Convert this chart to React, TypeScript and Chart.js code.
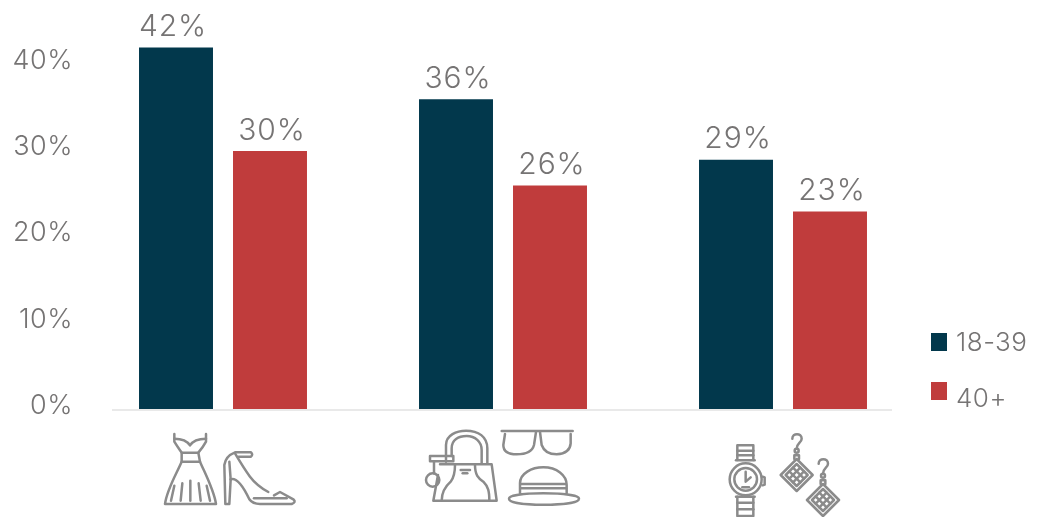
import { useEffect, useRef } from "react";
import { Chart, registerables } from "chart.js";

Chart.register(...registerables);

const categories = ["Dresses and shoes", "Bags and accessories", "Watches and jewellery"];
const youngerShare = [42, 36, 29];
const olderShare = [30, 26, 23];
const seriesNames = ["18-39", "40+"];
const axisTicks = [0, 10, 20, 30, 40];

const NAVY = "#02384c";
const RED = "#c03c3c";
const TEXT = "#767474";
const ICON = "#8b8b8b";
const FAMILY = 'Inter, "Open Sans", sans-serif';

// Line icons, one per category, in a 3x grid relative to an origin beside the category centre.
const dressAndShoe = [
  "M103 42 L103 65 C112 80 120 90 125 98 L175 98 C182 90 190 80 198 65 L198 42",
  "M103 56 C125 56 140 60 150 76 C160 60 178 56 198 56",
  "M125 98 L125 125 L180 125 L175 98",
  "M125 125 C110 160 80 210 75 252 L228 252 C222 210 195 160 180 125",
  "M103 197 L93 242", "M127 190 L122 242", "M151 182 L151 242", "M176 190 L182 242", "M200 197 L210 242",
  "M296 110 L333 110 Q340 104 333 97 L285 97 C265 105 255 120 253 135 L256 252 L268 252 L272 178",
  "M272 178 C290 172 310 200 328 238 Q338 252 360 252 L455 252 Q470 246 460 238 L420 216 L402 226",
  "M385 216 C365 205 345 190 330 170 C315 150 300 125 285 100",
  "M342 235 L440 235", "M268 125 L272 178",
];
const bagGlassesHat = [
  "M108 125 L108 75 C108 45 140 32 168 32 C205 32 232 50 232 85 L232 130",
  "M125 108 L125 85 C125 60 145 48 170 48 C195 48 215 65 215 90 L215 130",
  "M90 133 L245 133 L260 242 L70 242 L84 165",
  "M135 135 C135 165 130 175 122 185 C105 200 95 215 95 242",
  "M195 135 C195 165 205 175 220 185 C235 200 238 215 238 242",
  "M152 150 L180 150", "M158 160 L172 160",
  "M60 108 L130 108 L130 124 L60 124 Z", "M72 124 L72 160",
  "M88 180 A20 20 0 1 1 48 180 A20 20 0 1 1 88 180",
  "M275 33 L488 33", "M285 42 L280 75 Q280 103 320 103 Q365 103 372 75 L378 36",
  "M390 36 L395 75 Q405 103 440 103 Q480 100 482 70 L482 42",
  "M330 220 L330 190 C330 160 365 142 400 142 C440 142 470 165 470 195 L470 220",
  "M332 192 L468 192", "M332 205 L468 205",
  "M507 236 C507 226 460 220 400 220 C340 220 297 226 297 236 C297 248 340 254 400 254 C460 254 507 248 507 236",
];
const watchAndEarrings = [
  "M112 120 L112 76 L160 76 L160 120", "M112 92 L160 92", "M112 106 L160 106", "M108 121 L164 121",
  "M112 230 L112 288 L160 288 L160 230", "M108 230 L164 230", "M112 248 L160 248", "M112 268 L160 268",
  "M185 178 A48 48 0 1 1 89 178 A48 48 0 1 1 185 178",
  "M171 178 A34 34 0 1 1 103 178 A34 34 0 1 1 171 178",
  "M188 170 L194 172 L194 194 L188 196", "M137 155 L137 185 L152 172", "M127 202 L147 202",
];
const earring = [
  "M290 117 L338 165 L290 213 L242 165 Z", "M290 132 L323 165 L290 198 L257 165 Z",
  "M268 154 L301 187", "M279 143 L312 176", "M268 176 L301 143", "M279 187 L312 154",
  "M283 117 L283 106 L297 106 L297 117", "M296 92 A6 6 0 1 1 284 92 A6 6 0 1 1 296 92",
  "M277 56 C277 38 305 38 305 56 C305 68 290 68 290 86",
];
const categoryIcons = [
  { dx: -83, paths: dressAndShoe },
  { dx: -93, paths: bagGlassesHat },
  { dx: -83, paths: watchAndEarrings },
];

const chartDecorations = {
  id: "chartDecorations",
  beforeDraw(chart: any) {
    // Slightly open tracking widens the light face on the axis labels.
    chart.ctx.letterSpacing = "0.5px";
  },
  afterDatasetsDraw(chart: any) {
    const { ctx, scales } = chart;
    const x = scales.x;
    const y = scales.y;
    ctx.save();

    // Baseline, shorter than the plotting area.
    ctx.strokeStyle = "#e9e9e9";
    ctx.lineWidth = 2;
    ctx.beginPath();
    ctx.moveTo(x.left + 29, y.getPixelForValue(0));
    ctx.lineTo(x.right - 31, y.getPixelForValue(0));
    ctx.stroke();

    // Value labels above each bar; the first one sits a little left of its bar's centre.
    ctx.font = `300 30px ${FAMILY}`;
    ctx.letterSpacing = "0.9px";
    ctx.fillStyle = TEXT;
    ctx.textAlign = "center";
    ctx.textBaseline = "middle";
    chart.data.datasets.forEach((ds: any, i: number) => {
      chart.getDatasetMeta(i).data.forEach((bar: any, j: number) => {
        const nudge = i === 0 && j === 0 ? -3 : 2;
        ctx.fillText(ds.data[j] + "%", bar.x + nudge, bar.y - 20.5);
      });
    });

    // Category icons below the baseline.
    ctx.strokeStyle = ICON;
    ctx.lineWidth = 7.5;
    ctx.lineCap = "round";
    ctx.lineJoin = "round";
    categoryIcons.forEach((icon, i) => {
      ctx.save();
      ctx.translate(x.getPixelForValue(i) + icon.dx, 420);
      ctx.scale(1 / 3, 1 / 3);
      icon.paths.forEach((d) => ctx.stroke(new Path2D(d)));
      if (i === 2) {
        earring.forEach((d) => ctx.stroke(new Path2D(d)));
        ctx.translate(79, 75);
        earring.forEach((d) => ctx.stroke(new Path2D(d)));
      }
      ctx.restore();
    });

    // Legend at the lower right.
    const rows = [
      { box: 333, text: 343 },
      { box: 382, text: 399 },
    ];
    ctx.font = `300 26px ${FAMILY}`;
    ctx.letterSpacing = "0.5px";
    rows.forEach((row, i) => {
      ctx.fillStyle = chart.data.datasets[i].backgroundColor;
      ctx.fillRect(931, row.box, 16, 18);
      ctx.fillStyle = TEXT;
      ctx.textAlign = "left";
      ctx.fillText(seriesNames[i], 956, row.text);
    });
    ctx.restore();
  },
};

export default function App() {
  const ref = useRef<HTMLCanvasElement>(null);

  useEffect(() => {
    const chart = new Chart(ref.current!, {
      type: "bar",
      data: {
        labels: categories,
        datasets: [
          { label: seriesNames[0], data: youngerShare, backgroundColor: NAVY },
          { label: seriesNames[1], data: olderShare, backgroundColor: RED },
        ],
      },
      plugins: [chartDecorations],
      options: {
        responsive: false,
        animation: false,
        categoryPercentage: 0.6714,
        barPercentage: 0.787,
        layout: { padding: { top: 0, right: 128, bottom: 0, left: 0 } },
        plugins: { legend: { display: false }, tooltip: { enabled: false } },
        scales: {
          x: {
            grid: { display: false },
            border: { display: false },
            ticks: { display: false },
            afterFit: (s: any) => { s.height = 107; },
          },
          y: {
            min: 0,
            max: 47.5,
            afterBuildTicks: (s: any) => { s.ticks = axisTicks.map((value) => ({ value })); },
            grid: { display: false, drawTicks: false },
            border: { display: false },
            ticks: {
              padding: 10,
              labelOffset: -4,
              color: TEXT,
              font: { family: FAMILY, size: 27, weight: 300 },
              callback: (v: any) => v + "%",
            },
            afterFit: (s: any) => {
              s.width = 83;
              s.paddingTop = 0;
              s.paddingBottom = 0;
            },
          },
        },
      } as any,
    });
    return () => chart.destroy();
  }, []);

  return (
    <div style={{ position: "fixed", left: 0, top: 0, width: 1051, height: 517, background: "#fff" }}>
      <canvas ref={ref} width={1051} height={517} style={{ display: "block" }} />
    </div>
  );
}
